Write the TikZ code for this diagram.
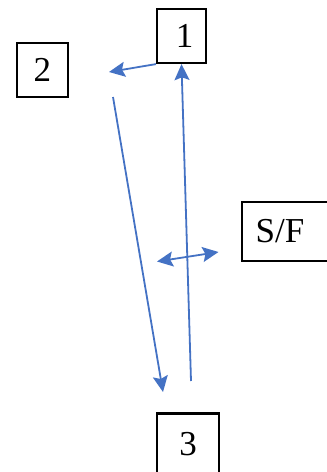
\documentclass[tikz,border=0pt]{standalone}
\usepackage{fontspec}
\setmainfont{Liberation Serif}
\usetikzlibrary{arrows.meta}

\definecolor{arrowblue}{HTML}{4472C4}

\begin{document}
\begin{tikzpicture}[x=0.5pt,y=-0.5pt,
    box/.style={draw, line width=1.1pt, font=\fontsize{17.5}{20}\selectfont},
    bluetip/.tip={Stealth[length=8pt,width=7.5pt,inset=1.4pt]},
    flow/.style={arrowblue, line width=0.9pt, -{bluetip}}]
    \useasboundingbox (0,0) rectangle (327,472);

    % boxes
    \node[box, minimum width=24.5pt, minimum height=27pt] (b1) at (181.5,36) {\hspace{3pt}1};
    \node[box, minimum width=25.5pt, minimum height=27pt] (b2) at (42.5,70) {2};
    \node[box, minimum width=44pt, minimum height=29.5pt] (sf) at (286,231.5) {\hspace{-6pt}S/F};
    \node[box, minimum width=31pt, minimum height=31pt] (b3) at (188,444.5) {3};

    % loose ends of the arrows
    \coordinate (toTwo) at (109,72);
    \coordinate (upStart) at (191,381);
    \coordinate (downStart) at (113,97);
    \coordinate (downEnd) at (163,392);
    \coordinate (sfLeft) at (157,261.5);
    \coordinate (sfRight) at (218.5,252);

    % arrows
    \draw[flow] (b1.south west) -- (toTwo);
    \draw[flow] (upStart) -- (b1.south);
    \draw[flow] (downStart) -- (downEnd);
    \draw[flow, {bluetip}-{bluetip}] (sfLeft) -- (sfRight);
\end{tikzpicture}
\end{document}
